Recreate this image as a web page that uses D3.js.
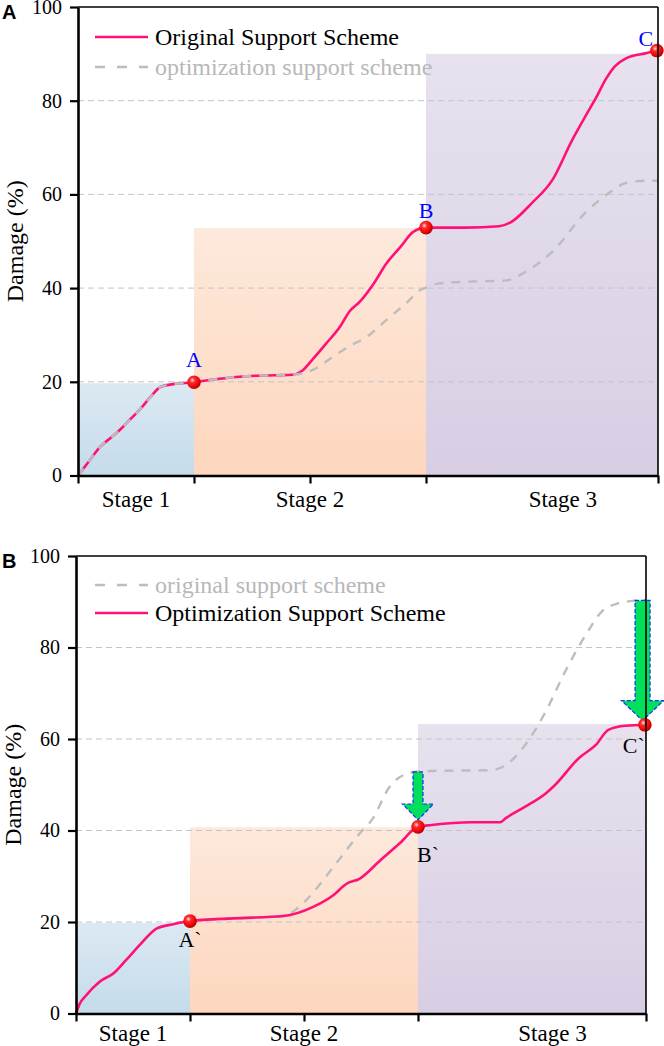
<!DOCTYPE html>
<html>
<head>
<meta charset="utf-8">
<script src="https://cdn.jsdelivr.net/npm/d3@7"></script>
<style>
  body { margin: 0; background: #fff; }
</style>
</head>
<body>
<div id="chart"></div>
<script>
// ---- data ----
var yTicks = [0, 20, 40, 60, 80, 100];
var stageTicks = [0, 1, 2, 3, 5];
var stageBounds = [0, 1, 3, 5];
var stageLabels = ["Stage 1", "Stage 2", "Stage 3"];
var stageLabelX = [0.5, 2, 4.18];

var originalA = [[0,0],[0.1,3.2],[0.19,6.1],[0.28,8],[0.36,9.7],[0.45,12],[0.53,14],[0.62,16.6],[0.71,18.9],
  [0.82,19.5],[1,19.9],[1.2,20.6],[1.45,21.2],[1.7,21.4],[1.85,21.5],[1.93,22.3],[2.03,25],[2.14,28.2],
  [2.26,31.8],[2.34,35],[2.43,37.1],[2.55,41],[2.66,45.3],[2.78,48.8],[2.89,52],[3,52.9],[3.34,52.9],
  [3.63,53.2],[3.74,54.2],[3.91,58.1],[4.09,63.1],[4.26,71.6],[4.37,76.5],[4.47,80.8],[4.55,84.6],
  [4.63,87.4],[4.72,89],[4.89,90.1],[5,90.7]];
var optimizationA = [[0,0],[0.1,3.2],[0.19,6.1],[0.28,8],[0.36,9.7],[0.45,12],[0.53,14],[0.62,16.6],[0.71,18.9],
  [0.82,19.5],[1,19.9],[1.2,20.6],[1.45,21.2],[1.7,21.4],[1.85,21.5],[2.03,22.6],[2.2,25.4],[2.34,27.6],
  [2.49,29.6],[2.66,33.2],[2.83,36.8],[2.96,39.7],[3.02,40.3],[3.11,41],[3.4,41.4],[3.68,41.6],[3.86,43.5],
  [4.09,47.8],[4.37,56],[4.57,60.2],[4.72,62.4],[4.89,62.9],[5,62.9]];
var stageTopA = [19.7, 52.8, 90];
var pointsA = [[1,19.9],[3,52.9],[4.99,90.7]];
var pointLabelsA = ["A", "B", "C"];

var originalB = [[0,0],[0.03,2],[0.09,4],[0.21,7],[0.33,8.8],[0.44,11.7],[0.56,15],[0.71,18.6],[0.85,19.5],
  [1,20.2],[1.38,20.8],[1.82,21.3],[1.88,21.9],[2.02,24.8],[2.26,32.1],[2.49,39.4],[2.6,42.5],[2.75,49.5],
  [2.91,52.5],[3,52.9],[3.12,53],[3.65,53.2],[3.77,54.3],[3.94,58.7],[4.12,66],[4.29,74.7],[4.47,82.7],
  [4.61,87.8],[4.76,89.7],[4.88,90.2],[5,90.4]];
var optimizationB = [[0,0],[0.03,2],[0.09,4],[0.21,7],[0.33,8.8],[0.44,11.7],[0.56,15],[0.71,18.6],[0.85,19.5],
  [1,20.2],[1.38,20.8],[1.82,21.3],[2.08,23.3],[2.26,25.9],[2.37,28.3],[2.49,29.5],[2.67,33.5],[2.84,37.2],
  [3,40.8],[3.12,41.2],[3.47,41.8],[3.72,41.8],[3.77,42.7],[3.94,45.2],[4.12,48.1],[4.2,49.9],[4.41,55.8],
  [4.56,58.7],[4.67,62],[4.82,62.9],[5,63.1]];
var stageTopB = [19.8, 40.7, 63.3];
var pointsB = [[1,20.2],[3,40.8],[4.99,63.1]];
var pointLabelsB = ["A`", "B`", "C`"];
var arrowsB = [[3, 52.8, 42.3], [4.97, 90.3, 64]]; // x, from, to

// ---- styles ----
var SERIF = "Liberation Serif, Times New Roman, DejaVu Serif, serif";
var PINK = "#ff1177", GRAY = "#bdbdbd";
var stageFills = [["#dce9f3", "#c4dbea"], ["#fde9dc", "#fdd6bd"], ["#e7e2ee", "#d8cee4"]];
var arrowSize = [{shaft: 10, head: 31, headLen: 16}, {shaft: 15, head: 42, headLen: 20}];

var W = 664, H = 1046;
var svg = d3.select("#chart").append("svg").attr("width", W).attr("height", H)
  .attr("font-family", SERIF).style("display", "block");
var defs = svg.append("defs");

stageFills.forEach(function (c, i) {
  var g = defs.append("linearGradient").attr("id", "stage" + i)
    .attr("x1", 0).attr("y1", 0).attr("x2", 0).attr("y2", 1);
  g.append("stop").attr("offset", "0%").attr("stop-color", c[0]);
  g.append("stop").attr("offset", "100%").attr("stop-color", c[1]);
});

var ball = defs.append("radialGradient").attr("id", "ball")
  .attr("cx", "38%").attr("cy", "35%").attr("r", "65%");
ball.append("stop").attr("offset", "0%").attr("stop-color", "#ffe0e0");
ball.append("stop").attr("offset", "30%").attr("stop-color", "#ff2a2a");
ball.append("stop").attr("offset", "85%").attr("stop-color", "#e00000");
ball.append("stop").attr("offset", "100%").attr("stop-color", "#b00000");

function drawPanel(cfg) {
  var x = d3.scaleLinear().domain([0, 5]).range([cfg.left, cfg.right]);
  var y = d3.scaleLinear().domain([0, 100]).range([cfg.bottom, cfg.top]);
  var g = svg.append("g");

  // stage backgrounds
  g.selectAll("rect.stage").data(cfg.stageTop).enter().append("rect")
    .attr("class", "stage")
    .attr("x", function (d, i) { return x(stageBounds[i]); })
    .attr("width", function (d, i) { return x(stageBounds[i + 1]) - x(stageBounds[i]); })
    .attr("y", function (d) { return y(d); })
    .attr("height", function (d) { return y(0) - y(d); })
    .attr("fill", function (d, i) { return "url(#stage" + i + ")"; });

  // grid
  g.selectAll("line.grid").data(yTicks.slice(1, -1)).enter().append("line")
    .attr("x1", x(0)).attr("x2", x(5))
    .attr("y1", function (d) { return y(d); }).attr("y2", function (d) { return y(d); })
    .attr("stroke", "#c4c4c4").attr("stroke-width", 1).attr("stroke-dasharray", "6,4");

  var line = d3.line().x(function (d) { return x(d[0]); }).y(function (d) { return y(d[1]); })
    .curve(d3.curveMonotoneX);

  cfg.series.forEach(function (s) {
    g.append("path").datum(s.data).attr("d", line).attr("fill", "none")
      .attr("stroke", s.pink ? PINK : GRAY)
      .attr("stroke-width", s.pink ? 2.6 : 2.4)
      .attr("stroke-dasharray", s.pink ? null : "9,8");
  });

  // legend
  cfg.series.forEach(function (s, i) {
    var ly = cfg.legendY + i * cfg.legendGap;
    g.append("line").attr("x1", cfg.legendX).attr("x2", cfg.legendX + 53)
      .attr("y1", ly).attr("y2", ly)
      .attr("stroke", s.pink ? PINK : GRAY).attr("stroke-width", 2.4)
      .attr("stroke-dasharray", s.pink ? null : "10,12");
    g.append("text").attr("x", cfg.legendX + 60).attr("y", ly + 8)
      .attr("font-family", SERIF)
      .attr("font-size", 24).attr("fill", s.pink ? "#000" : "#b8b8b8")
      .text(s.label);
  });

  // arrows
  (cfg.arrows || []).forEach(function (a, i) {
    var sz = arrowSize[i];
    var cx = x(a[0]), y0 = y(a[1]), y1 = y(a[2]), yh = y1 - sz.headLen;
    var pts = [[cx - sz.shaft / 2, y0], [cx + sz.shaft / 2, y0], [cx + sz.shaft / 2, yh], [cx + sz.head / 2, yh],
      [cx, y1], [cx - sz.head / 2, yh], [cx - sz.shaft / 2, yh]];
    g.append("path").attr("d", "M" + pts.join("L") + "Z")
      .attr("fill", "#00e05a").attr("stroke", "#1a2cff").attr("stroke-width", 1.2)
      .attr("stroke-dasharray", "4,2");
  });

  // points
  g.selectAll("circle.pt").data(cfg.points).enter().append("circle")
    .attr("cx", function (d) { return x(d[0]); }).attr("cy", function (d) { return y(d[1]); })
    .attr("r", 6.8).attr("fill", "url(#ball)");

  g.selectAll("text.pl").data(cfg.points).enter().append("text")
    .attr("x", function (d, i) { return x(d[0]) + cfg.labelDx[i]; })
    .attr("y", function (d, i) { return y(d[1]) + cfg.labelDy[i]; })
    .attr("text-anchor", function (d, i) { return cfg.labelAnchor[i]; })
    .attr("font-family", SERIF)
    .attr("font-size", 22).attr("fill", cfg.labelColor)
    .text(function (d, i) { return cfg.pointLabels[i]; });

  // frame
  g.append("line").attr("x1", x(0)).attr("x2", x(5)).attr("y1", y(100)).attr("y2", y(100))
    .attr("stroke", "#000").attr("stroke-width", 1.6);
  g.append("line").attr("x1", x(5)).attr("x2", x(5)).attr("y1", y(100)).attr("y2", y(0))
    .attr("stroke", "#000").attr("stroke-width", 1.6);

  var ya = g.append("g").attr("transform", "translate(" + x(0) + ",0)")
    .call(d3.axisLeft(y).tickValues(yTicks).tickSize(8).tickSizeOuter(0).tickPadding(8));
  var xa = g.append("g").attr("transform", "translate(0," + y(0) + ")")
    .call(d3.axisBottom(x).tickValues(stageTicks).tickFormat("").tickSize(8).tickSizeOuter(0));
  [ya, xa].forEach(function (a) {
    a.attr("font-family", SERIF).attr("font-size", 20);
    a.select(".domain").attr("stroke-width", 2.6);
    a.selectAll(".tick line").attr("stroke-width", 2.2);
    a.selectAll(".tick text").attr("font-family", SERIF).attr("font-size", 20).attr("fill", "#000");
  });

  g.selectAll("text.stage").data(stageLabels).enter().append("text")
    .attr("x", function (d, i) { return x(stageLabelX[i]); })
    .attr("y", y(0) + cfg.stageDy).attr("text-anchor", "middle")
    .attr("font-family", SERIF).attr("font-size", 23)
    .text(function (d) { return d; });

  g.append("text")
    .attr("transform", "translate(" + (cfg.left - 55) + "," + ((cfg.top + cfg.bottom) / 2) + ")rotate(-90)")
    .attr("text-anchor", "middle").attr("font-family", SERIF).attr("font-size", 24).text("Damage (%)");

  g.append("text").attr("x", 2).attr("y", cfg.top + 12)
    .attr("font-family", "Liberation Sans, Arial, sans-serif").attr("font-weight", "bold")
    .attr("font-size", 20).text(cfg.name);
}

drawPanel({
  name: "A", left: 78, right: 658, top: 7, bottom: 475.5, stageDy: 31,
  stageTop: stageTopA, points: pointsA, pointLabels: pointLabelsA,
  labelDx: [0, 0, -11], labelDy: [-15, -10, -5], labelAnchor: ["middle", "middle", "middle"],
  labelColor: "#0000ff",
  legendX: 95, legendY: 37, legendGap: 30,
  series: [{label: "Original Support Scheme", data: originalA, pink: true},
           {label: "optimization support scheme", data: optimizationA, pink: false}]
});

drawPanel({
  name: "B", left: 76, right: 646, top: 556, bottom: 1013.5, stageDy: 27,
  stageTop: stageTopB, points: pointsB, pointLabels: pointLabelsB, arrows: arrowsB,
  labelDx: [0, -1, 0], labelDy: [26, 35, 28], labelAnchor: ["middle", "start", "end"],
  labelColor: "#000",
  legendX: 95, legendY: 585, legendGap: 28,
  series: [{label: "original support scheme", data: originalB, pink: false},
           {label: "Optimization Support Scheme", data: optimizationB, pink: true}]
});
</script>
</body>
</html>
